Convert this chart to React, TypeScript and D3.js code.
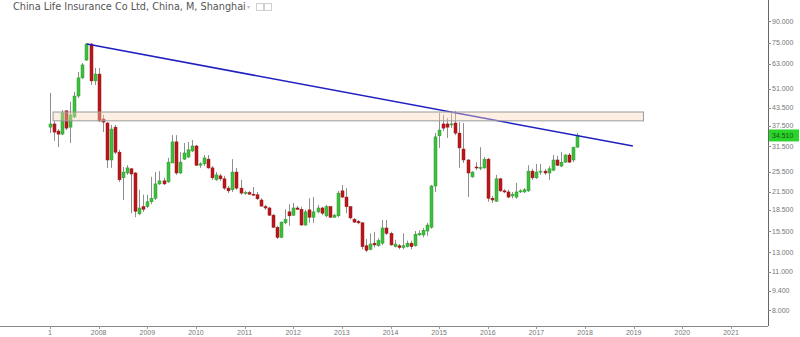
import React from "react";
import * as d3 from "d3";

const TITLE = "China Life Insurance Co Ltd, China, M, Shanghai";

// Monthly candles, Jan 2007 .. Nov 2017
const open = [
  37.0, 38.0, 35.8, 34.9, 42.4, 37.0, 40.3, 48.0, 55.9, 64.9,
  74.2, 54.5, 57.7, 39.6, 38.3, 28.1, 37.0, 30.0, 24.2, 25.2,
  26.1, 25.2, 17.9, 19.0, 19.0, 19.8, 20.4, 23.0, 23.6, 23.4,
  27.4, 32.7, 25.2, 28.3, 28.8, 30.3, 31.6, 26.9, 27.2, 28.3,
  26.3, 23.8, 24.6, 24.0, 22.2, 21.9, 25.4, 22.2, 21.3, 21.4,
  21.1, 21.0, 20.1, 19.0, 18.8, 17.7, 16.0, 14.7, 16.6, 18.2,
  17.7, 18.8, 18.6, 16.3, 18.5, 17.4, 18.2, 18.8, 17.6, 19.0,
  17.4, 17.6, 21.7, 20.6, 19.0, 17.1, 16.8, 16.6, 13.7, 13.3,
  14.0, 13.7, 14.0, 15.9, 15.2, 13.6, 13.7, 13.5, 13.6, 14.0,
  13.7, 15.0, 15.0, 15.5, 16.0, 22.6, 34.4, 38.0, 38.0, 37.7,
  38.3, 35.2, 30.8, 28.1, 24.4, 26.5, 26.3, 26.3, 28.3, 20.4,
  19.9, 24.0, 21.7, 21.5, 20.8, 20.6, 21.5, 21.5, 21.7, 25.6,
  24.2, 25.4, 25.6, 25.2, 25.8, 28.1, 26.7, 27.6, 29.3, 28.1,
  31.3,
];
const high = [
  49.3, 39.0, 36.4, 42.7, 42.7, 45.7, 49.7, 58.7, 63.3, 74.9,
  74.9, 60.7, 60.7, 41.0, 38.6, 37.7, 37.7, 30.6, 26.5, 26.9,
  26.3, 25.4, 21.9, 21.0, 21.0, 24.4, 25.4, 25.6, 24.2, 28.6,
  34.6, 34.6, 30.0, 32.4, 32.7, 33.2, 31.9, 27.6, 29.3, 29.3,
  26.7, 25.4, 25.0, 24.6, 22.6, 28.3, 26.3, 23.8, 21.7, 21.7,
  22.4, 21.5, 20.4, 19.3, 19.0, 17.9, 16.2, 16.8, 18.6, 19.4,
  19.6, 19.1, 19.0, 18.5, 20.4, 20.6, 19.3, 19.0, 19.3, 19.1,
  17.9, 21.7, 22.8, 22.2, 19.1, 17.3, 17.0, 16.7, 14.5, 15.2,
  15.4, 14.6, 17.0, 17.0, 15.4, 14.4, 13.9, 15.2, 14.3, 14.3,
  15.5, 15.6, 15.9, 16.6, 22.8, 35.2, 41.7, 41.0, 39.9, 42.0,
  42.4, 38.6, 38.3, 28.3, 25.6, 27.6, 31.3, 28.8, 28.6, 20.8,
  24.8, 24.2, 22.0, 21.9, 21.5, 23.2, 22.0, 22.2, 26.9, 26.1,
  27.2, 27.2, 26.1, 26.7, 29.3, 29.1, 30.0, 29.5, 29.8, 31.3,
  35.2,
];
const low = [
  35.2, 33.0, 31.3, 34.6, 36.1, 32.4, 39.9, 47.2, 55.4, 64.4,
  52.7, 52.7, 38.6, 35.5, 26.3, 26.3, 29.5, 23.4, 20.1, 24.8,
  18.0, 17.4, 17.7, 18.2, 18.8, 19.4, 20.1, 22.8, 22.8, 23.2,
  27.4, 24.8, 25.0, 28.1, 28.6, 30.0, 26.7, 26.3, 26.7, 26.1,
  23.8, 23.6, 23.6, 21.9, 21.3, 21.5, 21.9, 21.0, 21.0, 21.0,
  20.8, 20.1, 19.0, 18.5, 17.6, 15.9, 14.5, 14.6, 16.4, 16.2,
  17.6, 18.5, 16.2, 16.2, 16.6, 16.6, 18.0, 17.7, 17.4, 17.3,
  17.3, 17.4, 20.4, 18.0, 17.1, 16.6, 16.4, 13.3, 13.0, 13.2,
  13.5, 13.6, 13.8, 15.0, 13.7, 13.5, 13.3, 13.3, 13.5, 13.3,
  13.6, 14.9, 14.7, 14.9, 15.8, 21.5, 31.1, 35.8, 33.8, 36.7,
  34.6, 26.3, 27.4, 20.6, 24.2, 25.8, 25.8, 26.1, 19.8, 19.6,
  19.8, 21.5, 21.3, 20.4, 20.4, 20.3, 21.3, 21.3, 21.5, 23.8,
  24.0, 24.8, 24.8, 23.8, 25.6, 26.7, 26.5, 27.4, 27.4, 27.6,
  31.1,
];
const close = [
  38.0, 35.5, 34.9, 41.7, 36.7, 41.0, 48.0, 55.9, 62.3, 74.2,
  54.5, 57.7, 39.0, 38.6, 28.1, 36.4, 30.0, 23.8, 25.4, 26.3,
  25.0, 18.3, 18.8, 18.6, 19.8, 20.4, 23.0, 23.6, 23.0, 27.6,
  32.7, 25.2, 27.6, 29.8, 30.6, 31.6, 26.9, 27.2, 28.6, 26.3,
  24.2, 24.8, 24.0, 22.2, 21.7, 25.4, 22.2, 21.3, 21.4, 21.1,
  21.0, 20.3, 19.1, 18.8, 17.7, 16.0, 14.7, 16.7, 17.1, 17.6,
  18.8, 18.6, 16.3, 18.2, 17.4, 18.2, 18.8, 18.0, 19.0, 17.4,
  17.7, 21.3, 20.6, 19.0, 17.3, 16.7, 16.6, 13.6, 13.2, 13.9,
  13.8, 14.3, 15.9, 15.2, 13.8, 13.9, 13.5, 13.7, 14.0, 13.6,
  15.1, 15.2, 15.6, 16.3, 22.6, 34.1, 36.1, 36.7, 37.0, 38.0,
  35.2, 31.1, 28.1, 25.2, 25.4, 26.3, 26.4, 28.3, 20.4, 20.1,
  24.0, 21.7, 21.5, 20.6, 21.1, 21.5, 21.7, 21.9, 25.6, 24.2,
  25.4, 25.6, 25.2, 26.1, 28.1, 26.9, 27.6, 29.3, 27.6, 31.3,
  34.51,
];

const yearLabels = ["1", "2008", "2009", "2010", "2011", "2012", "2013", "2014", "2015", "2016", "2017", "2018", "2019", "2020", "2021"];
const priceTicks = [8, 9.4, 11, 13, 15.5, 18.5, 21.5, 25.5, 31.5, 37.5, 43.5, 51, 63, 75, 90, 110];

// trend line (month index, price) and resistance zone
const trendMonths = [9.1, 143.8];
const trendPrices = [74.2, 31.6];
const zoneMonths = [0.75, 146.4];
const zonePrices = [39.0, 42.0];

const W = 800;
const H = 337;
const AXIS_X = 768;
const AXIS_Y = 326;

export default function App() {
  const x = d3.scaleLinear().domain([0, 168]).range([50, 731]);
  const y = d3.scaleLog().domain([8, 90]).range([310, 21]);
  const lastClose = close[close.length - 1];
  const trend = d3
    .line<number>()
    .x((_, i) => x(trendMonths[i]))
    .y((p) => y(p));

  const font = "'Liberation Sans', Arial, sans-serif";

  return (
    <svg
      width={W}
      height={H}
      style={{ position: "absolute", left: 0, top: 0, background: "#fff" }}
      fontFamily={font}
    >
      <rect x={0} y={0} width={W} height={H} fill="#fff" />
      {/* title */}
      <text x={13} y={10} fontSize={9.7} fill="#555" fontFamily="'DejaVu Sans', Verdana, sans-serif">
        {TITLE}
      </text>
      <text x={247} y={9} fontSize={6} fill="#bbb">▾</text>
      <rect x={256.5} y={3.5} width={7} height={7} fill="none" stroke="#d0d0d0" />
      <rect x={264.5} y={3.5} width={7} height={7} fill="none" stroke="#d0d0d0" />

      {/* candles */}
      <g>
        {open.map((o, i) => {
          const c = close[i];
          const up = c >= o;
          const cx = Math.round(x(i));
          const top = y(Math.max(o, c));
          const bot = y(Math.min(o, c));
          return (
            <g key={i}>
              <line
                x1={cx + 0.5}
                x2={cx + 0.5}
                y1={y(high[i])}
                y2={y(low[i])}
                stroke="#8e8e8e"
                strokeWidth={1}
              />
              <rect
                x={cx - 1}
                y={top}
                width={3}
                height={Math.max(1, bot - top)}
                fill={up ? "#3cbf3c" : "#b8171b"}
                stroke={up ? "#2e9a2e" : "#9a1215"}
                strokeWidth={0.5}
              />
            </g>
          );
        })}
      </g>

      {/* trend line */}
      <path d={trend(trendPrices) || ""} fill="none" stroke="#2020c0" strokeWidth={1.5} />

      {/* resistance zone */}
      <rect
        x={x(zoneMonths[0])}
        y={y(zonePrices[1])}
        width={x(zoneMonths[1]) - x(zoneMonths[0])}
        height={y(zonePrices[0]) - y(zonePrices[1])}
        fill="rgba(250,214,185,0.4)"
        stroke="#9a9a9a"
        strokeWidth={1}
      />

      {/* right axis */}
      <line x1={AXIS_X + 0.5} x2={AXIS_X + 0.5} y1={0} y2={AXIS_Y} stroke="#666" />
      {priceTicks.map((t) => (
        <g key={t}>
          <line x1={AXIS_X} x2={AXIS_X + 3} y1={Math.round(y(t)) + 0.5} y2={Math.round(y(t)) + 0.5} stroke="#888" />
          <text x={AXIS_X + 4} y={y(t) + 2.5} fontSize={7} fill="#777">
            {d3.format(".3f")(t)}
          </text>
        </g>
      ))}
      {/* last price */}
      <rect x={AXIS_X + 1} y={y(lastClose) - 6} width={30} height={12} fill="#2bd42b" />
      <text x={AXIS_X + 4} y={y(lastClose) + 2.5} fontSize={7} fill="#145214">
        {d3.format(".3f")(lastClose)}
      </text>

      {/* bottom axis */}
      <line x1={0} x2={AXIS_X} y1={AXIS_Y + 0.5} y2={AXIS_Y + 0.5} stroke="#888" />
      {yearLabels.map((lab, k) => (
        <g key={lab + k}>
          <line x1={Math.round(x(k * 12)) + 0.5} x2={Math.round(x(k * 12)) + 0.5} y1={AXIS_Y} y2={AXIS_Y + 3} stroke="#999" />
          <text x={x(k * 12)} y={AXIS_Y + 9} fontSize={7} fill="#777" textAnchor="middle">
            {lab}
          </text>
        </g>
      ))}
    </svg>
  );
}
